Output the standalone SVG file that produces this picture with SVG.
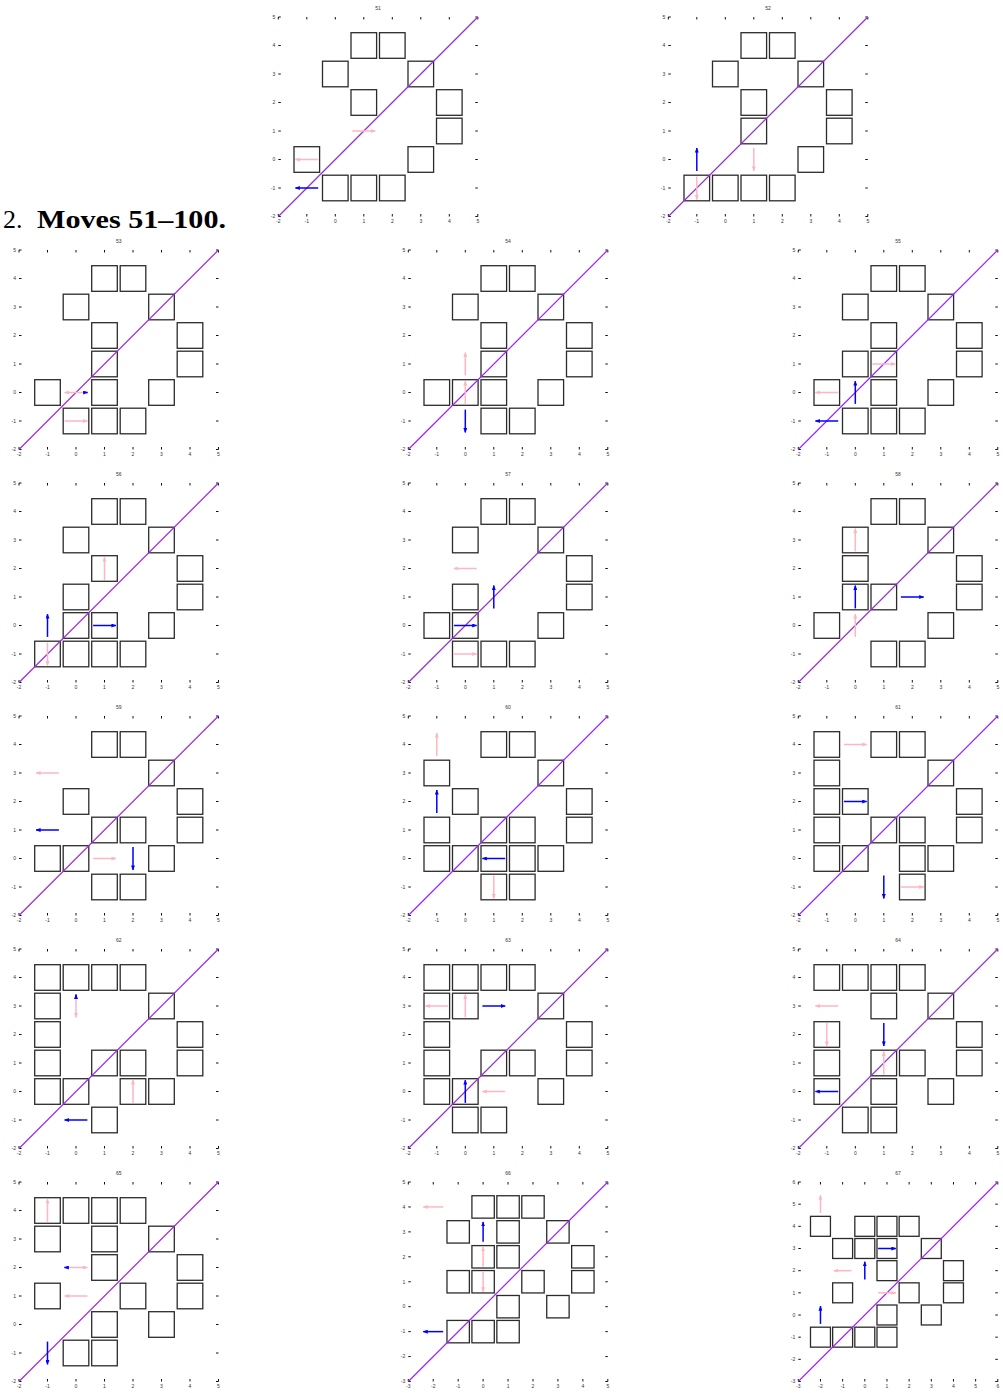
<svg xmlns="http://www.w3.org/2000/svg" xmlns:xlink="http://www.w3.org/1999/xlink" width="1003" height="1393" viewBox="0 0 1003 1393">
<style>
.tk{fill:none;stroke:#111;stroke-width:1}
.dg{stroke:#9a2be2;stroke-width:1.2}
.sq{fill:none;stroke:#2b2b2b;stroke-width:1.3}
.pk{stroke:#ffb6c1;stroke-width:1.5;marker-end:url(#hp)}
.bl{stroke:#0000ff;stroke-width:1.5;marker-end:url(#hb)}
.tt,.xl,.yl{font-family:"Liberation Sans",Arial,sans-serif;font-size:5px;fill:#333}
.tt,.xl{text-anchor:middle}
.yl{text-anchor:end}
.hd{font-family:"Liberation Serif","Times New Roman",serif;font-size:26px;fill:#000}
</style>
<defs>
<marker id="hp" viewBox="0 0 5 4" refX="4.5" refY="2" markerWidth="5" markerHeight="4" orient="auto" markerUnits="userSpaceOnUse"><path d="M0 0L5 2L0 4z" fill="#ffb6c1"/></marker>
<marker id="hb" viewBox="0 0 5 4" refX="4.5" refY="2" markerWidth="5" markerHeight="4" orient="auto" markerUnits="userSpaceOnUse"><path d="M0 0L5 2L0 4z" fill="#0000ff"/></marker>
<rect id="s7" class="sq" x="-12.8" y="-12.8" width="25.6" height="25.6"/>
<rect id="s8" class="sq" x="-11.2" y="-11.2" width="22.4" height="22.4"/>
<rect id="s9" class="sq" x="-9.98" y="-9.98" width="19.95" height="19.95"/>
<path id="t7" class="tk" d="M0 0v2.5M28.5 0v2.5M57 0v2.5M85.5 0v2.5M114 0v2.5M142.5 0v2.5M171 0v2.5M199.5 0v2.5M0 199.5v-2.5M28.5 199.5v-2.5M57 199.5v-2.5M85.5 199.5v-2.5M114 199.5v-2.5M142.5 199.5v-2.5M171 199.5v-2.5M199.5 199.5v-2.5M0 0h2.5M0 28.5h2.5M0 57h2.5M0 85.5h2.5M0 114h2.5M0 142.5h2.5M0 171h2.5M0 199.5h2.5M199.5 0h-2.5M199.5 28.5h-2.5M199.5 57h-2.5M199.5 85.5h-2.5M199.5 114h-2.5M199.5 142.5h-2.5M199.5 171h-2.5M199.5 199.5h-2.5"/>
<path id="t8" class="tk" d="M0 0v2.5M24.94 0v2.5M49.88 0v2.5M74.81 0v2.5M99.75 0v2.5M124.69 0v2.5M149.63 0v2.5M174.56 0v2.5M199.5 0v2.5M0 199.5v-2.5M24.94 199.5v-2.5M49.88 199.5v-2.5M74.81 199.5v-2.5M99.75 199.5v-2.5M124.69 199.5v-2.5M149.63 199.5v-2.5M174.56 199.5v-2.5M199.5 199.5v-2.5M0 0h2.5M0 24.94h2.5M0 49.88h2.5M0 74.81h2.5M0 99.75h2.5M0 124.69h2.5M0 149.63h2.5M0 174.56h2.5M0 199.5h2.5M199.5 0h-2.5M199.5 24.94h-2.5M199.5 49.88h-2.5M199.5 74.81h-2.5M199.5 99.75h-2.5M199.5 124.69h-2.5M199.5 149.63h-2.5M199.5 174.56h-2.5M199.5 199.5h-2.5"/>
<path id="t9" class="tk" d="M0 0v2.5M22.17 0v2.5M44.33 0v2.5M66.5 0v2.5M88.67 0v2.5M110.83 0v2.5M133 0v2.5M155.17 0v2.5M177.33 0v2.5M199.5 0v2.5M0 199.5v-2.5M22.17 199.5v-2.5M44.33 199.5v-2.5M66.5 199.5v-2.5M88.67 199.5v-2.5M110.83 199.5v-2.5M133 199.5v-2.5M155.17 199.5v-2.5M177.33 199.5v-2.5M199.5 199.5v-2.5M0 0h2.5M0 22.17h2.5M0 44.33h2.5M0 66.5h2.5M0 88.67h2.5M0 110.83h2.5M0 133h2.5M0 155.17h2.5M0 177.33h2.5M0 199.5h2.5M199.5 0h-2.5M199.5 22.17h-2.5M199.5 44.33h-2.5M199.5 66.5h-2.5M199.5 88.67h-2.5M199.5 110.83h-2.5M199.5 133h-2.5M199.5 155.17h-2.5M199.5 177.33h-2.5M199.5 199.5h-2.5"/>
</defs>
<rect width="1003" height="1393" fill="#fff"/>
<text class="hd" x="3" y="228">2.</text>
<text class="hd" x="37" y="228" font-weight="bold" textLength="189" lengthAdjust="spacingAndGlyphs">Moves 51–100.</text>

<g id="p51" transform="translate(278.3,17)">
<use href="#t7"/><text class="tt" x="99.75" y="-7.5">51</text>
<text class="yl"><tspan x="-3" y="1.8">5</tspan><tspan x="-3" y="30.3">4</tspan><tspan x="-3" y="58.8">3</tspan><tspan x="-3" y="87.3">2</tspan><tspan x="-3" y="115.8">1</tspan><tspan x="-3" y="144.3">0</tspan><tspan x="-3" y="172.8">-1</tspan><tspan x="-3" y="201.3">-2</tspan></text>
<text class="xl" y="206"><tspan x="0">-2</tspan><tspan x="28.5">-1</tspan><tspan x="57">0</tspan><tspan x="85.5">1</tspan><tspan x="114">2</tspan><tspan x="142.5">3</tspan><tspan x="171">4</tspan><tspan x="199.5">5</tspan></text>
<use href="#s7" x="85.5" y="28.5"/><use href="#s7" x="114" y="28.5"/><use href="#s7" x="57" y="57"/><use href="#s7" x="142.5" y="57"/><use href="#s7" x="85.5" y="85.5"/><use href="#s7" x="171" y="85.5"/><use href="#s7" x="171" y="114"/><use href="#s7" x="28.5" y="142.5"/><use href="#s7" x="142.5" y="142.5"/><use href="#s7" x="57" y="171"/><use href="#s7" x="85.5" y="171"/><use href="#s7" x="114" y="171"/>
<line class="dg" x1="0" y1="199.5" x2="199.5" y2="0"/>
<line class="pk" x1="74.1" y1="114" x2="96.9" y2="114"/><line class="pk" x1="39.9" y1="142.5" x2="17.1" y2="142.5"/><line class="bl" x1="39.9" y1="171" x2="17.1" y2="171"/>
</g>

<g id="p52" transform="translate(668.3,17)">
<use href="#t7"/><text class="tt" x="99.75" y="-7.5">52</text>
<text class="yl"><tspan x="-3" y="1.8">5</tspan><tspan x="-3" y="30.3">4</tspan><tspan x="-3" y="58.8">3</tspan><tspan x="-3" y="87.3">2</tspan><tspan x="-3" y="115.8">1</tspan><tspan x="-3" y="144.3">0</tspan><tspan x="-3" y="172.8">-1</tspan><tspan x="-3" y="201.3">-2</tspan></text>
<text class="xl" y="206"><tspan x="0">-2</tspan><tspan x="28.5">-1</tspan><tspan x="57">0</tspan><tspan x="85.5">1</tspan><tspan x="114">2</tspan><tspan x="142.5">3</tspan><tspan x="171">4</tspan><tspan x="199.5">5</tspan></text>
<use href="#s7" x="85.5" y="28.5"/><use href="#s7" x="114" y="28.5"/><use href="#s7" x="57" y="57"/><use href="#s7" x="142.5" y="57"/><use href="#s7" x="85.5" y="85.5"/><use href="#s7" x="171" y="85.5"/><use href="#s7" x="85.5" y="114"/><use href="#s7" x="171" y="114"/><use href="#s7" x="142.5" y="142.5"/><use href="#s7" x="28.5" y="171"/><use href="#s7" x="57" y="171"/><use href="#s7" x="85.5" y="171"/><use href="#s7" x="114" y="171"/>
<line class="dg" x1="0" y1="199.5" x2="199.5" y2="0"/>
<line class="bl" x1="28.5" y1="153.9" x2="28.5" y2="131.1"/><line class="pk" x1="28.5" y1="159.6" x2="28.5" y2="182.4"/><line class="pk" x1="85.5" y1="131.1" x2="85.5" y2="153.9"/>
</g>

<g id="p53" transform="translate(19,250)">
<use href="#t7"/><text class="tt" x="99.75" y="-7.5">53</text>
<text class="yl"><tspan x="-3" y="1.8">5</tspan><tspan x="-3" y="30.3">4</tspan><tspan x="-3" y="58.8">3</tspan><tspan x="-3" y="87.3">2</tspan><tspan x="-3" y="115.8">1</tspan><tspan x="-3" y="144.3">0</tspan><tspan x="-3" y="172.8">-1</tspan><tspan x="-3" y="201.3">-2</tspan></text>
<text class="xl" y="206"><tspan x="0">-2</tspan><tspan x="28.5">-1</tspan><tspan x="57">0</tspan><tspan x="85.5">1</tspan><tspan x="114">2</tspan><tspan x="142.5">3</tspan><tspan x="171">4</tspan><tspan x="199.5">5</tspan></text>
<use href="#s7" x="85.5" y="28.5"/><use href="#s7" x="114" y="28.5"/><use href="#s7" x="57" y="57"/><use href="#s7" x="142.5" y="57"/><use href="#s7" x="85.5" y="85.5"/><use href="#s7" x="171" y="85.5"/><use href="#s7" x="85.5" y="114"/><use href="#s7" x="171" y="114"/><use href="#s7" x="28.5" y="142.5"/><use href="#s7" x="85.5" y="142.5"/><use href="#s7" x="142.5" y="142.5"/><use href="#s7" x="57" y="171"/><use href="#s7" x="85.5" y="171"/><use href="#s7" x="114" y="171"/>
<line class="dg" x1="0" y1="199.5" x2="199.5" y2="0"/>
<line class="pk" x1="68.4" y1="142.5" x2="45.6" y2="142.5"/><line class="bl" x1="66" y1="142.5" x2="68.6" y2="142.5"/><line class="pk" x1="45.6" y1="171" x2="68.4" y2="171"/>
</g>

<g id="p54" transform="translate(408.3,250)">
<use href="#t7"/><text class="tt" x="99.75" y="-7.5">54</text>
<text class="yl"><tspan x="-3" y="1.8">5</tspan><tspan x="-3" y="30.3">4</tspan><tspan x="-3" y="58.8">3</tspan><tspan x="-3" y="87.3">2</tspan><tspan x="-3" y="115.8">1</tspan><tspan x="-3" y="144.3">0</tspan><tspan x="-3" y="172.8">-1</tspan><tspan x="-3" y="201.3">-2</tspan></text>
<text class="xl" y="206"><tspan x="0">-2</tspan><tspan x="28.5">-1</tspan><tspan x="57">0</tspan><tspan x="85.5">1</tspan><tspan x="114">2</tspan><tspan x="142.5">3</tspan><tspan x="171">4</tspan><tspan x="199.5">5</tspan></text>
<use href="#s7" x="85.5" y="28.5"/><use href="#s7" x="114" y="28.5"/><use href="#s7" x="57" y="57"/><use href="#s7" x="142.5" y="57"/><use href="#s7" x="85.5" y="85.5"/><use href="#s7" x="171" y="85.5"/><use href="#s7" x="85.5" y="114"/><use href="#s7" x="171" y="114"/><use href="#s7" x="28.5" y="142.5"/><use href="#s7" x="57" y="142.5"/><use href="#s7" x="85.5" y="142.5"/><use href="#s7" x="142.5" y="142.5"/><use href="#s7" x="85.5" y="171"/><use href="#s7" x="114" y="171"/>
<line class="dg" x1="0" y1="199.5" x2="199.5" y2="0"/>
<line class="pk" x1="57" y1="125.4" x2="57" y2="102.6"/><line class="pk" x1="57" y1="153.9" x2="57" y2="131.1"/><line class="bl" x1="57" y1="159.6" x2="57" y2="182.4"/>
</g>

<g id="p55" transform="translate(798.3,250)">
<use href="#t7"/><text class="tt" x="99.75" y="-7.5">55</text>
<text class="yl"><tspan x="-3" y="1.8">5</tspan><tspan x="-3" y="30.3">4</tspan><tspan x="-3" y="58.8">3</tspan><tspan x="-3" y="87.3">2</tspan><tspan x="-3" y="115.8">1</tspan><tspan x="-3" y="144.3">0</tspan><tspan x="-3" y="172.8">-1</tspan><tspan x="-3" y="201.3">-2</tspan></text>
<text class="xl" y="206"><tspan x="0">-2</tspan><tspan x="28.5">-1</tspan><tspan x="57">0</tspan><tspan x="85.5">1</tspan><tspan x="114">2</tspan><tspan x="142.5">3</tspan><tspan x="171">4</tspan><tspan x="199.5">5</tspan></text>
<use href="#s7" x="85.5" y="28.5"/><use href="#s7" x="114" y="28.5"/><use href="#s7" x="57" y="57"/><use href="#s7" x="142.5" y="57"/><use href="#s7" x="85.5" y="85.5"/><use href="#s7" x="171" y="85.5"/><use href="#s7" x="57" y="114"/><use href="#s7" x="85.5" y="114"/><use href="#s7" x="171" y="114"/><use href="#s7" x="28.5" y="142.5"/><use href="#s7" x="85.5" y="142.5"/><use href="#s7" x="142.5" y="142.5"/><use href="#s7" x="57" y="171"/><use href="#s7" x="85.5" y="171"/><use href="#s7" x="114" y="171"/>
<line class="dg" x1="0" y1="199.5" x2="199.5" y2="0"/>
<line class="pk" x1="74.1" y1="114" x2="96.9" y2="114"/><line class="pk" x1="39.9" y1="142.5" x2="17.1" y2="142.5"/><line class="bl" x1="57" y1="153.9" x2="57" y2="131.1"/><line class="bl" x1="39.9" y1="171" x2="17.1" y2="171"/>
</g>

<g id="p56" transform="translate(19,483)">
<use href="#t7"/><text class="tt" x="99.75" y="-7.5">56</text>
<text class="yl"><tspan x="-3" y="1.8">5</tspan><tspan x="-3" y="30.3">4</tspan><tspan x="-3" y="58.8">3</tspan><tspan x="-3" y="87.3">2</tspan><tspan x="-3" y="115.8">1</tspan><tspan x="-3" y="144.3">0</tspan><tspan x="-3" y="172.8">-1</tspan><tspan x="-3" y="201.3">-2</tspan></text>
<text class="xl" y="206"><tspan x="0">-2</tspan><tspan x="28.5">-1</tspan><tspan x="57">0</tspan><tspan x="85.5">1</tspan><tspan x="114">2</tspan><tspan x="142.5">3</tspan><tspan x="171">4</tspan><tspan x="199.5">5</tspan></text>
<use href="#s7" x="85.5" y="28.5"/><use href="#s7" x="114" y="28.5"/><use href="#s7" x="57" y="57"/><use href="#s7" x="142.5" y="57"/><use href="#s7" x="85.5" y="85.5"/><use href="#s7" x="171" y="85.5"/><use href="#s7" x="57" y="114"/><use href="#s7" x="171" y="114"/><use href="#s7" x="57" y="142.5"/><use href="#s7" x="85.5" y="142.5"/><use href="#s7" x="142.5" y="142.5"/><use href="#s7" x="28.5" y="171"/><use href="#s7" x="57" y="171"/><use href="#s7" x="85.5" y="171"/><use href="#s7" x="114" y="171"/>
<line class="dg" x1="0" y1="199.5" x2="199.5" y2="0"/>
<line class="pk" x1="85.5" y1="96.9" x2="85.5" y2="74.1"/><line class="bl" x1="28.5" y1="153.9" x2="28.5" y2="131.1"/><line class="bl" x1="74.1" y1="142.5" x2="96.9" y2="142.5"/><line class="pk" x1="28.5" y1="159.6" x2="28.5" y2="182.4"/>
</g>

<g id="p57" transform="translate(408.3,483)">
<use href="#t7"/><text class="tt" x="99.75" y="-7.5">57</text>
<text class="yl"><tspan x="-3" y="1.8">5</tspan><tspan x="-3" y="30.3">4</tspan><tspan x="-3" y="58.8">3</tspan><tspan x="-3" y="87.3">2</tspan><tspan x="-3" y="115.8">1</tspan><tspan x="-3" y="144.3">0</tspan><tspan x="-3" y="172.8">-1</tspan><tspan x="-3" y="201.3">-2</tspan></text>
<text class="xl" y="206"><tspan x="0">-2</tspan><tspan x="28.5">-1</tspan><tspan x="57">0</tspan><tspan x="85.5">1</tspan><tspan x="114">2</tspan><tspan x="142.5">3</tspan><tspan x="171">4</tspan><tspan x="199.5">5</tspan></text>
<use href="#s7" x="85.5" y="28.5"/><use href="#s7" x="114" y="28.5"/><use href="#s7" x="57" y="57"/><use href="#s7" x="142.5" y="57"/><use href="#s7" x="171" y="85.5"/><use href="#s7" x="57" y="114"/><use href="#s7" x="171" y="114"/><use href="#s7" x="28.5" y="142.5"/><use href="#s7" x="57" y="142.5"/><use href="#s7" x="142.5" y="142.5"/><use href="#s7" x="57" y="171"/><use href="#s7" x="85.5" y="171"/><use href="#s7" x="114" y="171"/>
<line class="dg" x1="0" y1="199.5" x2="199.5" y2="0"/>
<line class="pk" x1="68.4" y1="85.5" x2="45.6" y2="85.5"/><line class="bl" x1="85.5" y1="125.4" x2="85.5" y2="102.6"/><line class="bl" x1="45.6" y1="142.5" x2="68.4" y2="142.5"/><line class="pk" x1="45.6" y1="171" x2="68.4" y2="171"/>
</g>

<g id="p58" transform="translate(798.3,483)">
<use href="#t7"/><text class="tt" x="99.75" y="-7.5">58</text>
<text class="yl"><tspan x="-3" y="1.8">5</tspan><tspan x="-3" y="30.3">4</tspan><tspan x="-3" y="58.8">3</tspan><tspan x="-3" y="87.3">2</tspan><tspan x="-3" y="115.8">1</tspan><tspan x="-3" y="144.3">0</tspan><tspan x="-3" y="172.8">-1</tspan><tspan x="-3" y="201.3">-2</tspan></text>
<text class="xl" y="206"><tspan x="0">-2</tspan><tspan x="28.5">-1</tspan><tspan x="57">0</tspan><tspan x="85.5">1</tspan><tspan x="114">2</tspan><tspan x="142.5">3</tspan><tspan x="171">4</tspan><tspan x="199.5">5</tspan></text>
<use href="#s7" x="85.5" y="28.5"/><use href="#s7" x="114" y="28.5"/><use href="#s7" x="57" y="57"/><use href="#s7" x="142.5" y="57"/><use href="#s7" x="57" y="85.5"/><use href="#s7" x="171" y="85.5"/><use href="#s7" x="57" y="114"/><use href="#s7" x="85.5" y="114"/><use href="#s7" x="171" y="114"/><use href="#s7" x="28.5" y="142.5"/><use href="#s7" x="142.5" y="142.5"/><use href="#s7" x="85.5" y="171"/><use href="#s7" x="114" y="171"/>
<line class="dg" x1="0" y1="199.5" x2="199.5" y2="0"/>
<line class="pk" x1="57" y1="68.4" x2="57" y2="45.6"/><line class="bl" x1="57" y1="125.4" x2="57" y2="102.6"/><line class="bl" x1="102.6" y1="114" x2="125.4" y2="114"/><line class="pk" x1="57" y1="153.9" x2="57" y2="131.1"/>
</g>

<g id="p59" transform="translate(19,716)">
<use href="#t7"/><text class="tt" x="99.75" y="-7.5">59</text>
<text class="yl"><tspan x="-3" y="1.8">5</tspan><tspan x="-3" y="30.3">4</tspan><tspan x="-3" y="58.8">3</tspan><tspan x="-3" y="87.3">2</tspan><tspan x="-3" y="115.8">1</tspan><tspan x="-3" y="144.3">0</tspan><tspan x="-3" y="172.8">-1</tspan><tspan x="-3" y="201.3">-2</tspan></text>
<text class="xl" y="206"><tspan x="0">-2</tspan><tspan x="28.5">-1</tspan><tspan x="57">0</tspan><tspan x="85.5">1</tspan><tspan x="114">2</tspan><tspan x="142.5">3</tspan><tspan x="171">4</tspan><tspan x="199.5">5</tspan></text>
<use href="#s7" x="85.5" y="28.5"/><use href="#s7" x="114" y="28.5"/><use href="#s7" x="142.5" y="57"/><use href="#s7" x="57" y="85.5"/><use href="#s7" x="171" y="85.5"/><use href="#s7" x="85.5" y="114"/><use href="#s7" x="114" y="114"/><use href="#s7" x="171" y="114"/><use href="#s7" x="28.5" y="142.5"/><use href="#s7" x="57" y="142.5"/><use href="#s7" x="142.5" y="142.5"/><use href="#s7" x="85.5" y="171"/><use href="#s7" x="114" y="171"/>
<line class="dg" x1="0" y1="199.5" x2="199.5" y2="0"/>
<line class="pk" x1="39.9" y1="57" x2="17.1" y2="57"/><line class="bl" x1="39.9" y1="114" x2="17.1" y2="114"/><line class="pk" x1="74.1" y1="142.5" x2="96.9" y2="142.5"/><line class="bl" x1="114" y1="131.1" x2="114" y2="153.9"/>
</g>

<g id="p60" transform="translate(408.3,716)">
<use href="#t7"/><text class="tt" x="99.75" y="-7.5">60</text>
<text class="yl"><tspan x="-3" y="1.8">5</tspan><tspan x="-3" y="30.3">4</tspan><tspan x="-3" y="58.8">3</tspan><tspan x="-3" y="87.3">2</tspan><tspan x="-3" y="115.8">1</tspan><tspan x="-3" y="144.3">0</tspan><tspan x="-3" y="172.8">-1</tspan><tspan x="-3" y="201.3">-2</tspan></text>
<text class="xl" y="206"><tspan x="0">-2</tspan><tspan x="28.5">-1</tspan><tspan x="57">0</tspan><tspan x="85.5">1</tspan><tspan x="114">2</tspan><tspan x="142.5">3</tspan><tspan x="171">4</tspan><tspan x="199.5">5</tspan></text>
<use href="#s7" x="85.5" y="28.5"/><use href="#s7" x="114" y="28.5"/><use href="#s7" x="28.5" y="57"/><use href="#s7" x="142.5" y="57"/><use href="#s7" x="57" y="85.5"/><use href="#s7" x="171" y="85.5"/><use href="#s7" x="28.5" y="114"/><use href="#s7" x="85.5" y="114"/><use href="#s7" x="114" y="114"/><use href="#s7" x="171" y="114"/><use href="#s7" x="28.5" y="142.5"/><use href="#s7" x="57" y="142.5"/><use href="#s7" x="85.5" y="142.5"/><use href="#s7" x="114" y="142.5"/><use href="#s7" x="142.5" y="142.5"/><use href="#s7" x="85.5" y="171"/><use href="#s7" x="114" y="171"/>
<line class="dg" x1="0" y1="199.5" x2="199.5" y2="0"/>
<line class="pk" x1="28.5" y1="39.9" x2="28.5" y2="17.1"/><line class="bl" x1="28.5" y1="96.9" x2="28.5" y2="74.1"/><line class="bl" x1="96.9" y1="142.5" x2="74.1" y2="142.5"/><line class="pk" x1="85.5" y1="159.6" x2="85.5" y2="182.4"/>
</g>

<g id="p61" transform="translate(798.3,716)">
<use href="#t7"/><text class="tt" x="99.75" y="-7.5">61</text>
<text class="yl"><tspan x="-3" y="1.8">5</tspan><tspan x="-3" y="30.3">4</tspan><tspan x="-3" y="58.8">3</tspan><tspan x="-3" y="87.3">2</tspan><tspan x="-3" y="115.8">1</tspan><tspan x="-3" y="144.3">0</tspan><tspan x="-3" y="172.8">-1</tspan><tspan x="-3" y="201.3">-2</tspan></text>
<text class="xl" y="206"><tspan x="0">-2</tspan><tspan x="28.5">-1</tspan><tspan x="57">0</tspan><tspan x="85.5">1</tspan><tspan x="114">2</tspan><tspan x="142.5">3</tspan><tspan x="171">4</tspan><tspan x="199.5">5</tspan></text>
<use href="#s7" x="28.5" y="28.5"/><use href="#s7" x="85.5" y="28.5"/><use href="#s7" x="114" y="28.5"/><use href="#s7" x="28.5" y="57"/><use href="#s7" x="142.5" y="57"/><use href="#s7" x="28.5" y="85.5"/><use href="#s7" x="57" y="85.5"/><use href="#s7" x="171" y="85.5"/><use href="#s7" x="28.5" y="114"/><use href="#s7" x="85.5" y="114"/><use href="#s7" x="114" y="114"/><use href="#s7" x="171" y="114"/><use href="#s7" x="28.5" y="142.5"/><use href="#s7" x="57" y="142.5"/><use href="#s7" x="114" y="142.5"/><use href="#s7" x="142.5" y="142.5"/><use href="#s7" x="114" y="171"/>
<line class="dg" x1="0" y1="199.5" x2="199.5" y2="0"/>
<line class="pk" x1="45.6" y1="28.5" x2="68.4" y2="28.5"/><line class="bl" x1="45.6" y1="85.5" x2="68.4" y2="85.5"/><line class="bl" x1="85.5" y1="159.6" x2="85.5" y2="182.4"/><line class="pk" x1="102.6" y1="171" x2="125.4" y2="171"/>
</g>

<g id="p62" transform="translate(19,949)">
<use href="#t7"/><text class="tt" x="99.75" y="-7.5">62</text>
<text class="yl"><tspan x="-3" y="1.8">5</tspan><tspan x="-3" y="30.3">4</tspan><tspan x="-3" y="58.8">3</tspan><tspan x="-3" y="87.3">2</tspan><tspan x="-3" y="115.8">1</tspan><tspan x="-3" y="144.3">0</tspan><tspan x="-3" y="172.8">-1</tspan><tspan x="-3" y="201.3">-2</tspan></text>
<text class="xl" y="206"><tspan x="0">-2</tspan><tspan x="28.5">-1</tspan><tspan x="57">0</tspan><tspan x="85.5">1</tspan><tspan x="114">2</tspan><tspan x="142.5">3</tspan><tspan x="171">4</tspan><tspan x="199.5">5</tspan></text>
<use href="#s7" x="28.5" y="28.5"/><use href="#s7" x="57" y="28.5"/><use href="#s7" x="85.5" y="28.5"/><use href="#s7" x="114" y="28.5"/><use href="#s7" x="28.5" y="57"/><use href="#s7" x="142.5" y="57"/><use href="#s7" x="28.5" y="85.5"/><use href="#s7" x="171" y="85.5"/><use href="#s7" x="28.5" y="114"/><use href="#s7" x="85.5" y="114"/><use href="#s7" x="114" y="114"/><use href="#s7" x="171" y="114"/><use href="#s7" x="28.5" y="142.5"/><use href="#s7" x="57" y="142.5"/><use href="#s7" x="114" y="142.5"/><use href="#s7" x="142.5" y="142.5"/><use href="#s7" x="85.5" y="171"/>
<line class="dg" x1="0" y1="199.5" x2="199.5" y2="0"/>
<line class="pk" x1="57" y1="45.6" x2="57" y2="68.4"/><line class="bl" x1="57" y1="48.2" x2="57" y2="45.4"/><line class="pk" x1="114" y1="153.9" x2="114" y2="131.1"/><line class="bl" x1="68.4" y1="171" x2="45.6" y2="171"/>
</g>

<g id="p63" transform="translate(408.3,949)">
<use href="#t7"/><text class="tt" x="99.75" y="-7.5">63</text>
<text class="yl"><tspan x="-3" y="1.8">5</tspan><tspan x="-3" y="30.3">4</tspan><tspan x="-3" y="58.8">3</tspan><tspan x="-3" y="87.3">2</tspan><tspan x="-3" y="115.8">1</tspan><tspan x="-3" y="144.3">0</tspan><tspan x="-3" y="172.8">-1</tspan><tspan x="-3" y="201.3">-2</tspan></text>
<text class="xl" y="206"><tspan x="0">-2</tspan><tspan x="28.5">-1</tspan><tspan x="57">0</tspan><tspan x="85.5">1</tspan><tspan x="114">2</tspan><tspan x="142.5">3</tspan><tspan x="171">4</tspan><tspan x="199.5">5</tspan></text>
<use href="#s7" x="28.5" y="28.5"/><use href="#s7" x="57" y="28.5"/><use href="#s7" x="85.5" y="28.5"/><use href="#s7" x="114" y="28.5"/><use href="#s7" x="28.5" y="57"/><use href="#s7" x="57" y="57"/><use href="#s7" x="142.5" y="57"/><use href="#s7" x="28.5" y="85.5"/><use href="#s7" x="171" y="85.5"/><use href="#s7" x="28.5" y="114"/><use href="#s7" x="85.5" y="114"/><use href="#s7" x="114" y="114"/><use href="#s7" x="171" y="114"/><use href="#s7" x="28.5" y="142.5"/><use href="#s7" x="57" y="142.5"/><use href="#s7" x="142.5" y="142.5"/><use href="#s7" x="57" y="171"/><use href="#s7" x="85.5" y="171"/>
<line class="dg" x1="0" y1="199.5" x2="199.5" y2="0"/>
<line class="pk" x1="39.9" y1="57" x2="17.1" y2="57"/><line class="pk" x1="57" y1="68.4" x2="57" y2="45.6"/><line class="bl" x1="74.1" y1="57" x2="96.9" y2="57"/><line class="bl" x1="57" y1="153.9" x2="57" y2="131.1"/><line class="pk" x1="96.9" y1="142.5" x2="74.1" y2="142.5"/>
</g>

<g id="p64" transform="translate(798.3,949)">
<use href="#t7"/><text class="tt" x="99.75" y="-7.5">64</text>
<text class="yl"><tspan x="-3" y="1.8">5</tspan><tspan x="-3" y="30.3">4</tspan><tspan x="-3" y="58.8">3</tspan><tspan x="-3" y="87.3">2</tspan><tspan x="-3" y="115.8">1</tspan><tspan x="-3" y="144.3">0</tspan><tspan x="-3" y="172.8">-1</tspan><tspan x="-3" y="201.3">-2</tspan></text>
<text class="xl" y="206"><tspan x="0">-2</tspan><tspan x="28.5">-1</tspan><tspan x="57">0</tspan><tspan x="85.5">1</tspan><tspan x="114">2</tspan><tspan x="142.5">3</tspan><tspan x="171">4</tspan><tspan x="199.5">5</tspan></text>
<use href="#s7" x="28.5" y="28.5"/><use href="#s7" x="57" y="28.5"/><use href="#s7" x="85.5" y="28.5"/><use href="#s7" x="114" y="28.5"/><use href="#s7" x="85.5" y="57"/><use href="#s7" x="142.5" y="57"/><use href="#s7" x="28.5" y="85.5"/><use href="#s7" x="171" y="85.5"/><use href="#s7" x="28.5" y="114"/><use href="#s7" x="85.5" y="114"/><use href="#s7" x="114" y="114"/><use href="#s7" x="171" y="114"/><use href="#s7" x="28.5" y="142.5"/><use href="#s7" x="85.5" y="142.5"/><use href="#s7" x="142.5" y="142.5"/><use href="#s7" x="57" y="171"/><use href="#s7" x="85.5" y="171"/>
<line class="dg" x1="0" y1="199.5" x2="199.5" y2="0"/>
<line class="pk" x1="39.9" y1="57" x2="17.1" y2="57"/><line class="pk" x1="28.5" y1="74.1" x2="28.5" y2="96.9"/><line class="bl" x1="85.5" y1="74.1" x2="85.5" y2="96.9"/><line class="pk" x1="85.5" y1="125.4" x2="85.5" y2="102.6"/><line class="bl" x1="39.9" y1="142.5" x2="17.1" y2="142.5"/>
</g>

<g id="p65" transform="translate(19,1182)">
<use href="#t7"/><text class="tt" x="99.75" y="-7.5">65</text>
<text class="yl"><tspan x="-3" y="1.8">5</tspan><tspan x="-3" y="30.3">4</tspan><tspan x="-3" y="58.8">3</tspan><tspan x="-3" y="87.3">2</tspan><tspan x="-3" y="115.8">1</tspan><tspan x="-3" y="144.3">0</tspan><tspan x="-3" y="172.8">-1</tspan><tspan x="-3" y="201.3">-2</tspan></text>
<text class="xl" y="206"><tspan x="0">-2</tspan><tspan x="28.5">-1</tspan><tspan x="57">0</tspan><tspan x="85.5">1</tspan><tspan x="114">2</tspan><tspan x="142.5">3</tspan><tspan x="171">4</tspan><tspan x="199.5">5</tspan></text>
<use href="#s7" x="28.5" y="28.5"/><use href="#s7" x="57" y="28.5"/><use href="#s7" x="85.5" y="28.5"/><use href="#s7" x="114" y="28.5"/><use href="#s7" x="28.5" y="57"/><use href="#s7" x="85.5" y="57"/><use href="#s7" x="142.5" y="57"/><use href="#s7" x="85.5" y="85.5"/><use href="#s7" x="171" y="85.5"/><use href="#s7" x="28.5" y="114"/><use href="#s7" x="114" y="114"/><use href="#s7" x="171" y="114"/><use href="#s7" x="85.5" y="142.5"/><use href="#s7" x="142.5" y="142.5"/><use href="#s7" x="57" y="171"/><use href="#s7" x="85.5" y="171"/>
<line class="dg" x1="0" y1="199.5" x2="199.5" y2="0"/>
<line class="pk" x1="28.5" y1="39.9" x2="28.5" y2="17.1"/><line class="pk" x1="45.6" y1="85.5" x2="68.4" y2="85.5"/><line class="bl" x1="48.2" y1="85.5" x2="45.4" y2="85.5"/><line class="pk" x1="68.4" y1="114" x2="45.6" y2="114"/><line class="bl" x1="28.5" y1="159.6" x2="28.5" y2="182.4"/>
</g>

<g id="p66" transform="translate(408.3,1182)">
<use href="#t8"/><text class="tt" x="99.75" y="-7.5">66</text>
<text class="yl"><tspan x="-3" y="1.8">5</tspan><tspan x="-3" y="26.74">4</tspan><tspan x="-3" y="51.68">3</tspan><tspan x="-3" y="76.61">2</tspan><tspan x="-3" y="101.55">1</tspan><tspan x="-3" y="126.49">0</tspan><tspan x="-3" y="151.43">-1</tspan><tspan x="-3" y="176.36">-2</tspan><tspan x="-3" y="201.3">-3</tspan></text>
<text class="xl" y="206"><tspan x="0">-3</tspan><tspan x="24.94">-2</tspan><tspan x="49.88">-1</tspan><tspan x="74.81">0</tspan><tspan x="99.75">1</tspan><tspan x="124.69">2</tspan><tspan x="149.63">3</tspan><tspan x="174.56">4</tspan><tspan x="199.5">5</tspan></text>
<use href="#s8" x="74.81" y="24.94"/><use href="#s8" x="99.75" y="24.94"/><use href="#s8" x="124.69" y="24.94"/><use href="#s8" x="49.88" y="49.88"/><use href="#s8" x="99.75" y="49.88"/><use href="#s8" x="149.63" y="49.88"/><use href="#s8" x="74.81" y="74.81"/><use href="#s8" x="99.75" y="74.81"/><use href="#s8" x="174.56" y="74.81"/><use href="#s8" x="49.88" y="99.75"/><use href="#s8" x="74.81" y="99.75"/><use href="#s8" x="124.69" y="99.75"/><use href="#s8" x="174.56" y="99.75"/><use href="#s8" x="99.75" y="124.69"/><use href="#s8" x="149.63" y="124.69"/><use href="#s8" x="49.88" y="149.63"/><use href="#s8" x="74.81" y="149.63"/><use href="#s8" x="99.75" y="149.63"/>
<line class="dg" x1="0" y1="199.5" x2="199.5" y2="0"/>
<line class="pk" x1="34.9" y1="24.94" x2="14.96" y2="24.94"/><line class="bl" x1="74.81" y1="59.85" x2="74.81" y2="39.9"/><line class="pk" x1="74.81" y1="84.79" x2="74.81" y2="64.84"/><line class="pk" x1="74.81" y1="89.78" x2="74.81" y2="109.73"/><line class="bl" x1="34.9" y1="149.63" x2="14.96" y2="149.63"/>
</g>

<g id="p67" transform="translate(798.3,1182)">
<use href="#t9"/><text class="tt" x="99.75" y="-7.5">67</text>
<text class="yl"><tspan x="-3" y="1.8">6</tspan><tspan x="-3" y="23.97">5</tspan><tspan x="-3" y="46.13">4</tspan><tspan x="-3" y="68.3">3</tspan><tspan x="-3" y="90.47">2</tspan><tspan x="-3" y="112.63">1</tspan><tspan x="-3" y="134.8">0</tspan><tspan x="-3" y="156.97">-1</tspan><tspan x="-3" y="179.13">-2</tspan><tspan x="-3" y="201.3">-3</tspan></text>
<text class="xl" y="206"><tspan x="0">-3</tspan><tspan x="22.17">-2</tspan><tspan x="44.33">-1</tspan><tspan x="66.5">0</tspan><tspan x="88.67">1</tspan><tspan x="110.83">2</tspan><tspan x="133">3</tspan><tspan x="155.17">4</tspan><tspan x="177.33">5</tspan><tspan x="199.5">6</tspan></text>
<use href="#s9" x="22.17" y="44.33"/><use href="#s9" x="66.5" y="44.33"/><use href="#s9" x="88.67" y="44.33"/><use href="#s9" x="110.83" y="44.33"/><use href="#s9" x="44.33" y="66.5"/><use href="#s9" x="66.5" y="66.5"/><use href="#s9" x="88.67" y="66.5"/><use href="#s9" x="133" y="66.5"/><use href="#s9" x="88.67" y="88.67"/><use href="#s9" x="155.17" y="88.67"/><use href="#s9" x="44.33" y="110.83"/><use href="#s9" x="110.83" y="110.83"/><use href="#s9" x="155.17" y="110.83"/><use href="#s9" x="88.67" y="133"/><use href="#s9" x="133" y="133"/><use href="#s9" x="22.17" y="155.17"/><use href="#s9" x="44.33" y="155.17"/><use href="#s9" x="66.5" y="155.17"/><use href="#s9" x="88.67" y="155.17"/>
<line class="dg" x1="0" y1="199.5" x2="199.5" y2="0"/>
<line class="pk" x1="22.17" y1="31.04" x2="22.17" y2="13.3"/><line class="bl" x1="79.8" y1="66.5" x2="97.54" y2="66.5"/><line class="pk" x1="53.2" y1="88.67" x2="35.46" y2="88.67"/><line class="bl" x1="66.5" y1="97.54" x2="66.5" y2="79.8"/><line class="pk" x1="79.8" y1="110.83" x2="97.54" y2="110.83"/><line class="bl" x1="22.17" y1="141.87" x2="22.17" y2="124.13"/>
</g>
</svg>
